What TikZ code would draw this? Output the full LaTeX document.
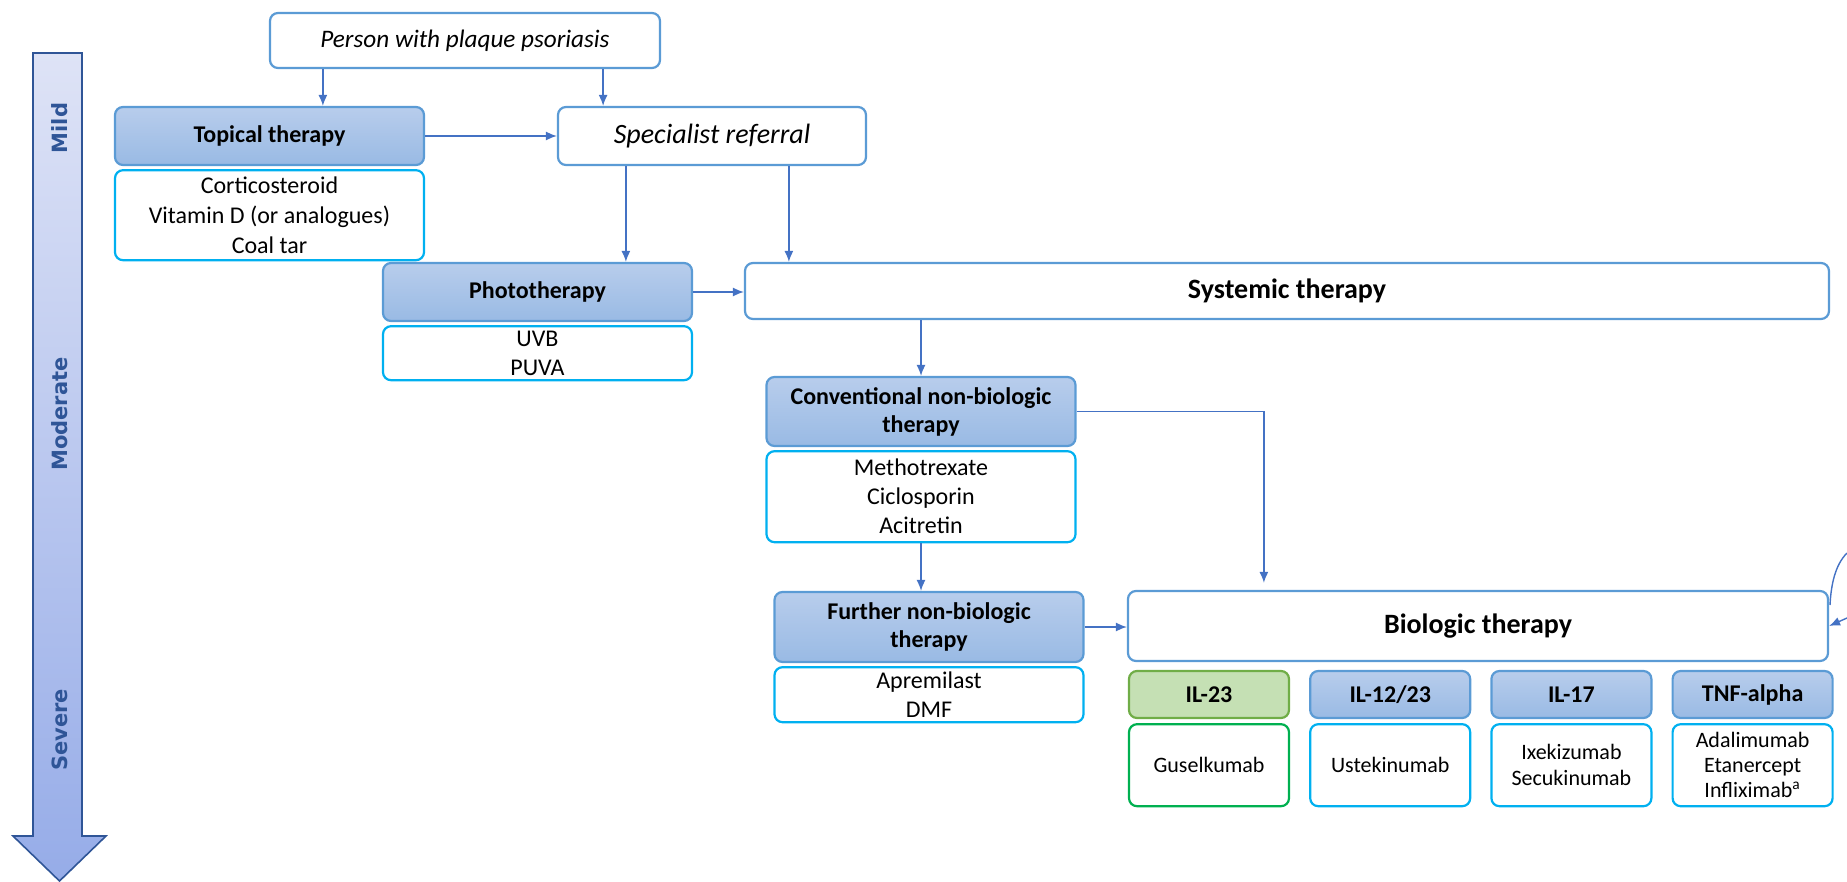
\documentclass[tikz,border=0pt]{standalone}
\usepackage{fontspec}
\setmainfont{Carlito}
\newfontfamily\sevfont{DejaVu Sans}
\usepackage{xcolor}
\usetikzlibrary{
  positioning,
  arrows.meta,
  shapes}
\definecolor{boxblue}{RGB}{91,155,213}
\definecolor{hdrtop}{RGB}{184,205,236}
\definecolor{hdrbot}{RGB}{153,186,228}
\definecolor{listcyan}{RGB}{0,176,240}
\definecolor{connblue}{RGB}{68,114,196}
\definecolor{greenfill}{RGB}{197,224,180}
\definecolor{greenborder}{RGB}{112,173,71}
\definecolor{greenlist}{RGB}{0,176,80}
\definecolor{sevtop}{RGB}{222,227,246}
\definecolor{sevbot}{RGB}{150,172,232}
\definecolor{sevborder}{RGB}{47,85,151}
\tikzset{every picture/.style={font issue=\fontsize{11}{14}},
         font issue/.style={execute at begin picture={#1\selectfont}}
        }

\begin{document}
\begin{tikzpicture}[x=0.5pt, y=-0.5pt, node distance=1.5pt,
  box/.style={draw=boxblue, line width=1.1pt, rounded corners=4pt, fill=white, align=center, inner sep=0pt},
  header/.style={box, top color=hdrtop, bottom color=hdrbot, font=\bfseries\fontsize{12}{14}\selectfont, minimum width=154.5pt},
  list/.style={box, draw=listcyan, font=\fontsize{12}{14.5}\selectfont, minimum width=154.5pt},
  main/.style={box, font=\itshape\fontsize{14}{16}\selectfont},
  mainbold/.style={box, font=\bfseries\fontsize{14}{16}\selectfont},
  drug/.style={header, minimum width=80pt, minimum height=23.5pt, font=\bfseries\fontsize{12}{14}\selectfont},
  druglist/.style={list, minimum width=80pt, minimum height=41pt, font=\fontsize{11}{13}\selectfont},
  flow/.style={draw=connblue, line width=0.7pt, -{Latex[length=5.5pt,width=4.5pt]}},
  sev/.style={rotate=90, text=sevborder, font=\sevfont\bfseries\fontsize{10.5}{12}\selectfont}]
\useasboundingbox (0,0) rectangle (1847,882);

% severity scale
\draw[draw=sevborder, line width=0.8pt, top color=sevtop, bottom color=sevbot]
  (33,53) -- (82,53) -- (82,836) -- (106,836) -- (59.5,881) -- (13,836) -- (33,836) -- cycle;
\node[sev](mild) at (60,128){Mild};
\node[sev](moderate) at (60,414){Moderate};
\node[sev](severe) at (60,730){Severe};

% boxes
\node[main, minimum width=195pt, minimum height=27.5pt, font=\itshape\fontsize{12.6}{16}\selectfont](person) at (465,40.5){Person with plaque psoriasis};
\node[header, minimum height=29pt](topical) at (269.5,136){Topical therapy};
\node[list, below=of topical, minimum height=45pt, font=\fontsize{12}{15}\selectfont](topicallist){Corticosteroid\\Vitamin D (or analogues)\\Coal tar};
\node[main, minimum width=154pt, minimum height=29pt](referral) at (712,136){Specialist referral};
\node[header, minimum height=29pt](photo) at (537.5,292){Phototherapy};
\node[list, below=of photo, minimum height=27pt](photolist){UVB\\PUVA};
\node[mainbold, minimum width=542pt, minimum height=28pt](systemic) at (1287,291){Systemic therapy};
\node[header, minimum height=34.5pt](conv) at (921,411.5){Conventional non-biologic\\therapy};
\node[list, below=of conv, minimum height=45.5pt](convlist){Methotrexate\\Ciclosporin\\Acitretin};
\node[header, minimum height=35pt](further) at (929,627){Further non-biologic\\therapy};
\node[list, below=of further, minimum height=27.5pt](furtherlist){Apremilast\\DMF};
\node[mainbold, minimum width=350pt, minimum height=35pt](bio) at (1478,626){Biologic therapy};

% biologic classes
\node[drug, top color=greenfill, bottom color=greenfill, draw=greenborder](il23) at (1209,694.5){IL-23};
\node[druglist, below=2pt of il23, draw=greenlist](il23list){Guselkumab};
\node[drug, right=9.5pt of il23](il1223){IL-12/23};
\node[druglist, below=2pt of il1223](il1223list){Ustekinumab};
\node[drug, right=9.5pt of il1223](il17){IL-17};
\node[druglist, below=2pt of il17](il17list){Ixekizumab\\Secukinumab};
\node[drug, right=9.5pt of il17](tnf){TNF-alpha};
\node[druglist, below=2pt of tnf, font=\fontsize{11}{12.5}\selectfont](tnflist){Adalimumab\\Etanercept\\Infliximab\textsuperscript{a}};

% connectors
\draw[flow] ([xshift=27pt]person.south west) -- ([xshift=27pt]person.south west |- topical.north);
\draw[flow] ([xshift=-29pt]person.south east) -- ([xshift=-29pt]person.south east |- referral.north);
\draw[flow] (topical.east) -- (referral.west);
\draw[flow] ([xshift=34.5pt]referral.south west) -- ([xshift=34.5pt]referral.south west |- photo.north);
\draw[flow] ([xshift=116pt]referral.south west) -- ([xshift=116pt]referral.south west |- systemic.north);
\draw[flow] (photo.east) -- (photo.east -| systemic.west);
\draw[flow] (conv.north |- systemic.south) -- (conv.north);
\draw[flow, shorten >=3.5pt] (conv.east) -| ([xshift=68.5pt]bio.north west);
\draw[flow] (convlist.south) -- (convlist.south |- further.north);
\draw[flow] (further.east) -- (further.east -| bio.west);
\coordinate (offtop) at (1847,553);
\coordinate (offright) at (1847,618);
\draw[draw=connblue, line width=0.7pt] (offtop) .. controls (1835,565) and (1831,585) .. (1830,605);
\draw[flow] (offright) -- (bio.east);
\end{tikzpicture}
\end{document}
